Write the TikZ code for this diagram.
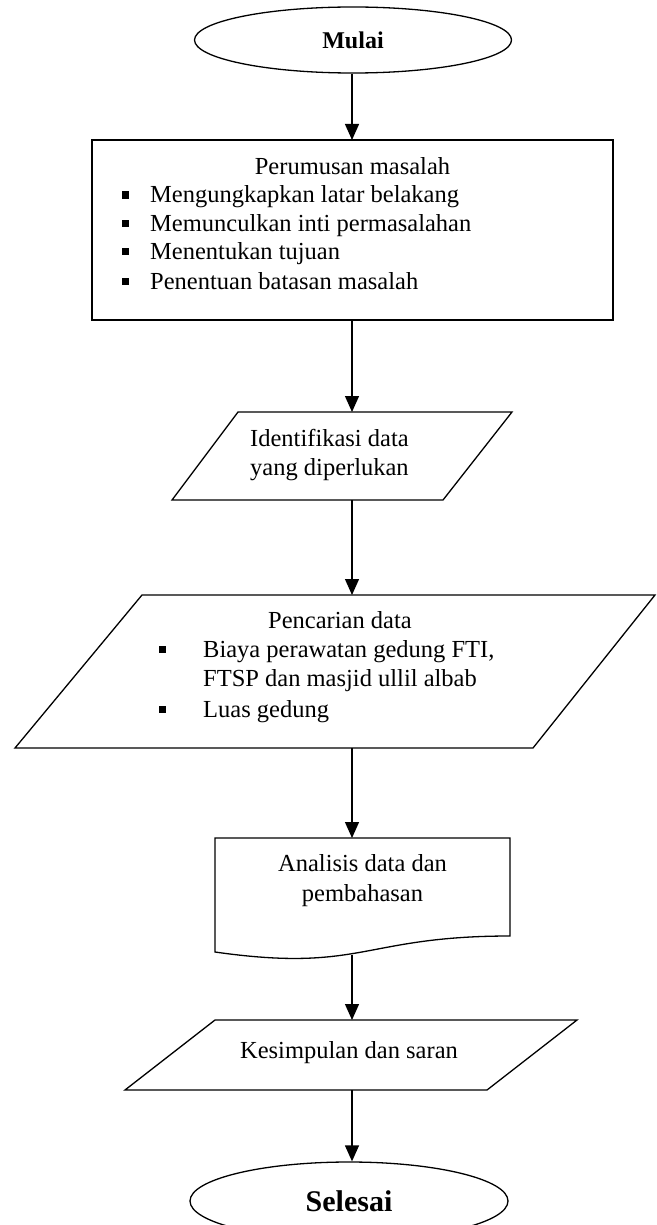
\documentclass[tikz,border=0pt]{standalone}
\usepackage{fontspec}
\setmainfont{Liberation Serif}
\usetikzlibrary{arrows.meta,shapes.geometric}
\begin{document}
\begin{tikzpicture}[x=1pt,y=-1pt,
  line/.style={line width=1.3pt},
  flow/.style={line width=1.3pt,-{Triangle[length=16pt,width=14pt]}},
  txt/.style={inner sep=0pt,anchor=base west,font=\fontsize{24.5}{29}\selectfont},
  ctxt/.style={inner sep=0pt,anchor=base,font=\fontsize{24.5}{29}\selectfont},
  bul/.style={fill=black,minimum size=7pt,inner sep=0pt},
  hold/.style={inner sep=0pt,outer sep=0pt}]
\clip (0,0) rectangle (656,1225);
\coordinate (ax) at (352,0);
% Mulai
\node[draw,line,ellipse,minimum width=317pt,minimum height=66pt,inner sep=0pt,
  font=\bfseries\fontsize{24}{28}\selectfont] (mul) at (353,40) {Mulai};
% Perumusan masalah
\node[draw,line,hold,minimum width=521pt,minimum height=180pt] (rum) at (352.5,230) {};
\node[ctxt] (rt) at (352.5,175) {Perumusan masalah};
\node[bul] (rb1) at (125,195) {};
\node[txt] (r1) at (150,203) {Mengungkapkan latar belakang};
\node[bul] (rb2) at (125,223) {};
\node[txt] (r2) at (150,231) {Memunculkan inti permasalahan};
\node[bul] (rb3) at (125,251) {};
\node[txt] (r3) at (150,259) {Menentukan tujuan};
\node[bul] (rb4) at (125,281) {};
\node[txt] (r4) at (150,289) {Penentuan batasan masalah};
% Identifikasi
\node[hold,minimum width=340pt,minimum height=88pt] (idf) at (342,456) {};
\draw[line] (238,412) -- (512,412) -- (443,500) -- (172,500) -- cycle;
\node[txt] (i1) at (250,446) {Identifikasi data};
\node[txt] (i2) at (250,475) {yang diperlukan};
% Pencarian data
\node[hold,minimum width=640pt,minimum height=153pt] (cari) at (335,671.5) {};
\draw[line] (142,595) -- (655,595) -- (533,748) -- (15,748) -- cycle;
\node[txt] (c0) at (268,628) {Pencarian data};
\node[bul] (cb1) at (162,649) {};
\node[txt] (c1) at (203,657) {Biaya perawatan gedung FTI,};
\node[txt] (c2) at (203,686) {FTSP dan masjid ullil albab};
\node[bul] (cb2) at (162,709) {};
\node[txt] (c3) at (203,717) {Luas gedung};
% Analisis
\node[hold,minimum width=295pt,minimum height=122pt] (ana) at (362.5,899) {};
\draw[line] (215,838) -- (510,838) -- (510,936) .. controls (362.5,936) and (362.5,973) .. (215,952) -- cycle;
\coordinate (anab) at (352,955);
\node[ctxt] (a1) at (362.5,871) {Analisis data dan};
\node[ctxt] (a2) at (362.5,901) {pembahasan};
% Kesimpulan
\node[hold,minimum width=452pt,minimum height=70pt] (kes) at (351,1055) {};
\draw[line] (215,1020) -- (577,1020) -- (487,1090) -- (125,1090) -- cycle;
\node[ctxt] (k1) at (349,1058) {Kesimpulan dan saran};
% Selesai
\node[draw,line,ellipse,minimum width=318pt,minimum height=78pt,inner sep=0pt,
  font=\bfseries\fontsize{30}{34}\selectfont] (sel) at (349,1201) {Selesai};
% connectors
\draw[flow] (ax |- mul.south) -- (ax |- rum.north);
\draw[flow] (ax |- rum.south) -- (ax |- idf.north);
\draw[flow] (ax |- idf.south) -- (ax |- cari.north);
\draw[flow] (ax |- cari.south) -- (ax |- ana.north);
\draw[flow] (anab) -- (ax |- kes.north);
\draw[flow] (ax |- kes.south) -- (ax |- sel.north);
\end{tikzpicture}
\end{document}
